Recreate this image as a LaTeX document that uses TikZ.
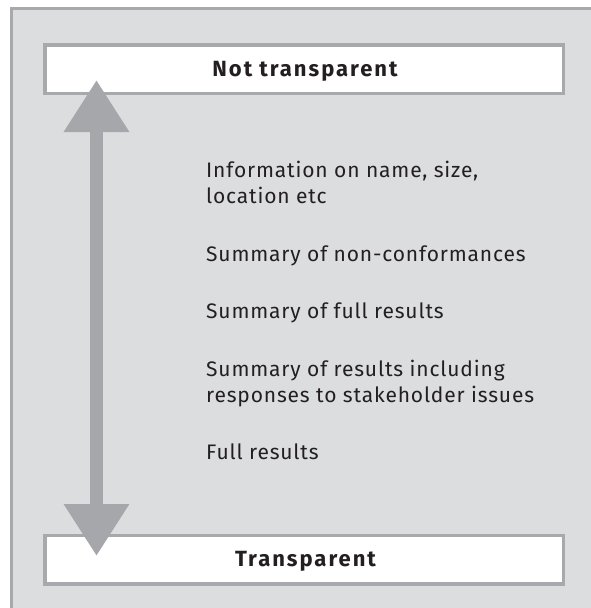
\documentclass[tikz,border=0pt]{standalone}
\usepackage{fontspec}
\setmainfont{Fira Sans}
\newfontfamily\itemfont[LetterSpace=4]{Fira Sans}
\newfontfamily\endfont[LetterSpace=9]{Fira Sans}
\usetikzlibrary{arrows.meta}
\definecolor{panelfill}{RGB}{220,221,223}
\definecolor{panelline}{RGB}{168,169,172}
\definecolor{arrowgray}{RGB}{166,167,171}
\definecolor{textdark}{RGB}{35,31,32}
\tikzset{
  scalebox/.style={draw=panelline, line width=3.5pt, fill=white,
    minimum width=518.5pt, minimum height=48.5pt, inner sep=0pt},
  endlabel/.style={anchor=base, text=textdark, inner sep=0pt,
    font=\endfont\fontsize{22}{26}\selectfont\bfseries},
  itemtext/.style={anchor=base west, text=textdark, align=left, inner sep=0pt,
    font=\itemfont\fontsize{21}{26}\selectfont},
  scalearrow/.style={draw=arrowgray, line width=13pt,
    {Triangle[length=52pt,width=62pt]}-{Triangle[length=52pt,width=62pt]}}
}
\begin{document}
\begin{tikzpicture}[x=1pt,y=-1pt]
  \useasboundingbox (0,0) rectangle (591,608);
  % panel background with its top and left rules
  \fill[panelfill] (10,7) rectangle (591,608);
  \fill[panelline] (10,7) rectangle (591,10);
  \fill[panelline] (10,7) rectangle (13,608);

  % the two ends of the scale
  \node[scalebox] (opaque) at (304,69) {};
  \node[scalebox] (clear) at (304,559.5) {};
  \node[endlabel] (opaquetxt) at (305,76) {Not transparent};
  \node[endlabel] (cleartxt) at (305.5,566) {Transparent};

  % double-headed arrow between the ends
  \coordinate (uptip) at (96.5,80);
  \coordinate (downtip) at (96.5,556);
  \draw[scalearrow] (uptip) -- (downtip);

  % levels of disclosure (base anchor sits on the last line)
  \node[itemtext] (info) at (206,203) {Information on name, size,\\location etc};
  \node[itemtext] (nc) at (206,261) {Summary of non-conformances};
  \node[itemtext] (sumfull) at (206,318) {Summary of full results};
  \node[itemtext] (sumstake) at (206,402) {Summary of results including\\responses to stakeholder issues};
  \node[itemtext] (full) at (206,459) {Full results};
\end{tikzpicture}
\end{document}
